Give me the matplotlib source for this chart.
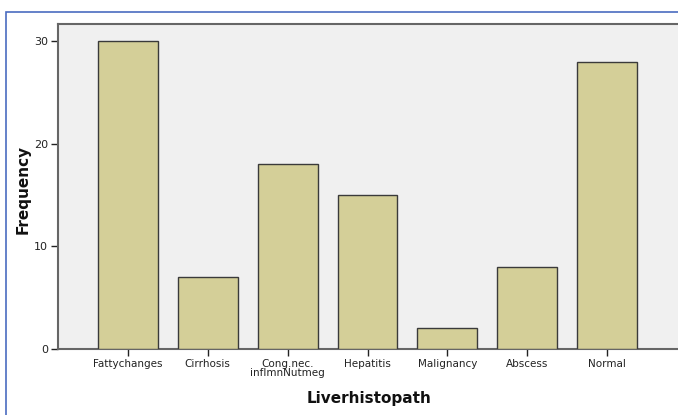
import matplotlib
matplotlib.use("Agg")
import matplotlib.pyplot as plt
from matplotlib.patches import Rectangle

categories = ["Fattychanges", "Cirrhosis", "Cong.nec.\ninflmnNutmeg", "Hepatitis",
              "Malignancy", "Abscess", "Normal"]
frequency = [30, 7, 18, 15, 2, 8, 28]
y_ticks = [0, 10, 20, 30]

W, H = 678, 415
fig = plt.figure(figsize=(W / 100, H / 100), dpi=100)
fig.patch.set_facecolor("white")

# blue outer border (goes off right/bottom edges)
border = Rectangle((6 / W, -0.05), 1.2, (H - 12) / H + 0.05, transform=fig.transFigure,
                   fill=False, edgecolor="#4a6cc0", linewidth=1.2)
fig.add_artist(border)

ax_l, ax_r, ax_t, ax_b = 58, 681, 24, 349
ax = fig.add_axes([ax_l / W, 1 - ax_b / H, (ax_r - ax_l) / W, (ax_b - ax_t) / H])
ax.set_facecolor("#f0f0f0")

x = list(range(len(categories)))
ax.bar(x, frequency, width=0.75, color="#d4cf98", edgecolor="#3a3a3a", linewidth=1.0, zorder=3)

ax.set_xlim(-0.87, len(categories) - 1 + 0.92)
ax.set_ylim(0, 31.7)
ax.set_yticks(y_ticks)
ax.set_xticks(x)
ax.set_xticklabels(categories, fontsize=7.5, linespacing=0.85, color="#222222")
ax.tick_params(axis="y", labelsize=8, colors="#222222", length=5, width=1, direction="out", pad=2)
ax.tick_params(axis="x", length=5, width=1, direction="out", pad=2, colors="#222222")
for t in ax.get_xticklines() + ax.get_yticklines():
    t.set_color("#555555")

for s in ax.spines.values():
    s.set_color("#666666")
    s.set_linewidth(1.5)

ax.set_xlabel("Liverhistopath", fontsize=11, fontweight="bold", labelpad=10, color="#111111")
ax.set_ylabel("Frequency", fontsize=11, fontweight="bold", color="#111111")
ax.yaxis.set_label_coords((31 - ax_l) / (ax_r - ax_l), (349 - 189) / (ax_b - ax_t))

fig.savefig("out.png", dpi=100, facecolor="white")
